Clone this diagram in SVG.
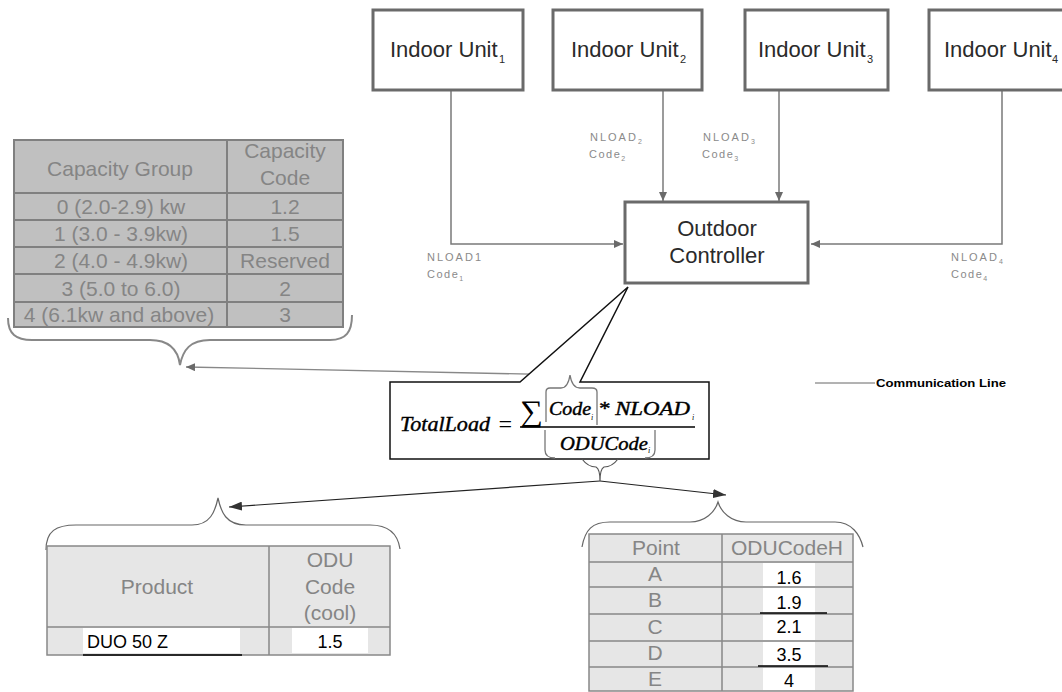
<svg xmlns="http://www.w3.org/2000/svg" width="1062" height="692" viewBox="0 0 1062 692">
<style>
.box{fill:#fff;stroke:#6a6a6a;stroke-width:3}
.unit{font-family:"Liberation Sans",Arial,sans-serif;font-size:22px;fill:#2a2a2a}
.sub{font-family:"Liberation Sans",Arial,sans-serif;font-size:11px;fill:#2a2a2a}
.lbl{font-family:"Liberation Sans",Arial,sans-serif;font-size:11px;fill:#8a8a8a;letter-spacing:2px}
.lsub{font-size:7px;letter-spacing:0}
.conn{fill:none;stroke:#7a7a7a;stroke-width:1.5}
.tbl{font-family:"Liberation Sans",Arial,sans-serif;font-size:21px;fill:#858585;text-anchor:middle}
.val{font-family:"Liberation Sans",Arial,sans-serif;font-size:18px;fill:#000}
.fx{font-family:"Liberation Serif","Times New Roman",serif;font-style:italic;fill:#000}
.brace{fill:none;stroke:#777;stroke-width:1.3}
</style>
<defs>
<marker id="ag" markerUnits="userSpaceOnUse" markerWidth="9" markerHeight="8" refX="9" refY="4" orient="auto">
<path d="M0,0 L9,4 L0,8 Z" fill="#6a6a6a"/>
</marker>
<marker id="ab" markerUnits="userSpaceOnUse" markerWidth="13" markerHeight="9" refX="13" refY="4.5" orient="auto">
<path d="M0,0 L13,4.5 L0,9 Z" fill="#333"/>
</marker>
</defs>
<rect width="1062" height="692" fill="#fff"/>

<g id="connectors">
<path class="conn" d="M451,90 V244 H623" marker-end="url(#ag)"/>
<path class="conn" d="M663,90 V201" marker-end="url(#ag)"/>
<path class="conn" d="M779,90 V201" marker-end="url(#ag)"/>
<path class="conn" d="M1002,90 V244 H811" marker-end="url(#ag)"/>
<path fill="none" stroke="#888" stroke-width="1.3" d="M570,375 L186,367" marker-end="url(#ag)"/>
<path fill="none" stroke="#222" stroke-width="1.2" d="M600,481 L229,507" marker-end="url(#ab)"/>
<path fill="none" stroke="#222" stroke-width="1.2" d="M600,481 L726,495" marker-end="url(#ab)"/>
</g>

<g id="unit1">
<rect class="box" x="373" y="10" width="150" height="80"/>
<text class="unit" x="390" y="57">Indoor Unit</text><text class="sub" x="499" y="63">1</text>
</g>
<g id="unit2">
<rect class="box" x="553" y="10" width="149" height="80"/>
<text class="unit" x="571" y="57">Indoor Unit</text><text class="sub" x="680" y="63">2</text>
</g>
<g id="unit3">
<rect class="box" x="745" y="10" width="143" height="80"/>
<text class="unit" x="758" y="57">Indoor Unit</text><text class="sub" x="867" y="63">3</text>
</g>
<g id="unit4">
<rect class="box" x="929" y="10" width="140" height="80"/>
<text class="unit" x="944" y="57">Indoor Unit</text><text class="sub" x="1052" y="63">4</text>
</g>

<g id="controller">
<rect class="box" x="625" y="202" width="183" height="81"/>
<text class="unit" x="717" y="236" text-anchor="middle">Outdoor</text>
<text class="unit" x="717" y="263" text-anchor="middle">Controller</text>
</g>

<g id="labels">
<text class="lbl" x="590" y="141">NLOAD<tspan class="lsub" dy="3">2</tspan></text>
<text class="lbl" x="589" y="158" style="letter-spacing:1.5px">Code<tspan class="lsub" dy="3">2</tspan></text>
<text class="lbl" x="703" y="141">NLOAD<tspan class="lsub" dy="3">3</tspan></text>
<text class="lbl" x="702" y="158" style="letter-spacing:1.5px">Code<tspan class="lsub" dy="3">3</tspan></text>
<text class="lbl" x="427" y="261">NLOAD1</text>
<text class="lbl" x="427" y="278" style="letter-spacing:1.5px">Code<tspan class="lsub" dy="3">1</tspan></text>
<text class="lbl" x="951" y="261">NLOAD<tspan class="lsub" dy="3">4</tspan></text>
<text class="lbl" x="951" y="278" style="letter-spacing:1.5px">Code<tspan class="lsub" dy="3">4</tspan></text>
</g>

<g id="legend">
<line x1="815" y1="383" x2="875" y2="383" stroke="#666" stroke-width="1"/>
<text x="876" y="387" font-family="Liberation Sans,Arial,sans-serif" font-size="11" font-weight="bold" fill="#000" textLength="130" lengthAdjust="spacingAndGlyphs">Communication Line</text>
</g>

<g id="capacity-table">
<rect x="14" y="140" width="329" height="187" fill="#c0c0c0" stroke="#808080" stroke-width="2"/>
<path d="M227,140 V327 M14,193 H343 M14,220 H343 M14,247 H343 M14,274 H343 M14,302 H343" stroke="#808080" stroke-width="2" fill="none"/>
<text class="tbl" x="120" y="176">Capacity Group</text>
<text class="tbl" x="285" y="158">Capacity</text>
<text class="tbl" x="285" y="185">Code</text>
<text class="tbl" x="121" y="214">0 (2.0-2.9) kw</text><text class="tbl" x="285" y="214">1.2</text>
<text class="tbl" x="121" y="241">1 (3.0 - 3.9kw)</text><text class="tbl" x="285" y="241">1.5</text>
<text class="tbl" x="121" y="268">2 (4.0 - 4.9kw)</text><text class="tbl" x="285" y="268">Reserved</text>
<text class="tbl" x="121" y="296">3 (5.0 to 6.0)</text><text class="tbl" x="285" y="296">2</text>
<text class="tbl" x="119" y="322">4 (6.1kw and above)</text><text class="tbl" x="285" y="322">3</text>
<path d="M8,318 C8,334 16,340 32,340 L150,340 C170,340 178,350 180,365 C183,350 190,340 210,340 L330,340 C346,340 352,332 352,315" fill="none" stroke="#888" stroke-width="2"/>
</g>

<g id="formula">
<path d="M390,382 H520 L628,287 L580,382 H709 V459 H390 Z" fill="#fff" stroke="#111" stroke-width="1.5"/>
<text class="fx" x="400" y="431" font-size="21" textLength="90" lengthAdjust="spacingAndGlyphs" stroke="#000" stroke-width="0.4">TotalLoad</text>
<text class="fx" x="497" y="432" font-size="24" font-style="normal">=</text>
<text x="520" y="421" font-family="Liberation Serif,serif" font-size="30" fill="#000" textLength="23" lengthAdjust="spacingAndGlyphs">∑</text>
<text class="fx" x="549" y="415" font-size="18" textLength="42" lengthAdjust="spacingAndGlyphs" stroke="#000" stroke-width="0.4">Code</text>
<text class="fx" x="591" y="420" font-size="8" fill="#999">i</text>
<text class="fx" x="598" y="415" font-size="18" textLength="92" lengthAdjust="spacingAndGlyphs" stroke="#000" stroke-width="0.4">* NLOAD</text>
<text class="fx" x="692" y="420" font-size="8" fill="#999">i</text>
<line x1="520" y1="427" x2="695" y2="427" stroke="#000" stroke-width="1.5"/>
<text class="fx" x="560" y="450" font-size="18" textLength="88" lengthAdjust="spacingAndGlyphs" stroke="#000" stroke-width="0.4">ODUCode</text>
<text class="fx" x="648" y="453" font-size="8" fill="#666">i</text>
<path class="brace" d="M546,422 V392 Q546,388 550,388 L561,388 Q568,388 570,375 Q572,388 580,388 L592,388 Q597,388 597,392 V425"/>
<path class="brace" d="M545,430 V450 Q545,458 555,458 M655,430 V450 Q655,458 645,458"/>
<path fill="none" stroke="#555" stroke-width="1.2" d="M582,459 Q588,467 596,467 Q600,469 600,481 Q600,469 604,467 Q612,467 618,459"/>
</g>

<g id="product-table">
<path d="M46,550 C46,531 56,525 76,525 L192,525 C210,525 215,512 218,498 C221,512 226,525 246,525 L370,525 C390,525 398,535 400,549" fill="none" stroke="#666" stroke-width="1.2"/>
<rect x="47" y="546" width="343" height="109" fill="#e6e6e6" stroke="#888" stroke-width="1.5"/>
<path d="M269,546 V655 M47,627 H390" stroke="#888" stroke-width="1.5"/>
<text class="tbl" x="157" y="594" font-size="22">Product</text>
<text class="tbl" x="330" y="567">ODU</text>
<text class="tbl" x="330" y="594">Code</text>
<text class="tbl" x="330" y="620">(cool)</text>
<rect x="83" y="628" width="157" height="25" fill="#fff"/>
<rect x="292" y="628" width="76" height="25" fill="#fff"/>
<text class="val" x="87" y="648">DUO 50 Z</text>
<text class="val" x="330" y="648" text-anchor="middle">1.5</text>
<line x1="83" y1="655" x2="242" y2="655" stroke="#000" stroke-width="1.5"/>
</g>

<g id="point-table">
<path d="M582,547 C585,530 592,522 610,522 L690,522 C705,522 715,512 718,502 C721,512 731,522 746,522 L835,522 C852,522 860,535 863,547" fill="none" stroke="#666" stroke-width="1.2"/>
<rect x="589" y="534" width="264" height="157" fill="#e6e6e6" stroke="#888" stroke-width="1.5"/>
<path d="M722,534 V691 M589,562 H853 M589,587 H853 M589,614 H853 M589,641 H853 M589,667 H853" stroke="#888" stroke-width="1.5"/>
<g fill="#fff">
<rect x="763" y="563" width="52" height="23"/>
<rect x="763" y="588" width="52" height="25"/>
<rect x="763" y="615" width="52" height="25"/>
<rect x="763" y="642" width="52" height="24"/>
<rect x="763" y="668" width="52" height="22"/>
</g>
<text class="tbl" x="656" y="555">Point</text>
<text class="tbl" x="787" y="555">ODUCodeH</text>
<text class="tbl" x="655" y="581" font-size="18">A</text>
<text class="tbl" x="655" y="607" font-size="18">B</text>
<text class="tbl" x="655" y="634" font-size="18">C</text>
<text class="tbl" x="655" y="660" font-size="18">D</text>
<text class="tbl" x="655" y="686" font-size="18">E</text>
<text class="val" x="789" y="584" text-anchor="middle">1.6</text>
<text class="val" x="789" y="609" text-anchor="middle">1.9</text>
<text class="val" x="789" y="633" text-anchor="middle">2.1</text>
<text class="val" x="789" y="661" text-anchor="middle">3.5</text>
<text class="val" x="789" y="687" text-anchor="middle">4</text>
<path d="M760,613 H827 M758,666 H828" stroke="#000" stroke-width="1.5"/>
</g>
</svg>
